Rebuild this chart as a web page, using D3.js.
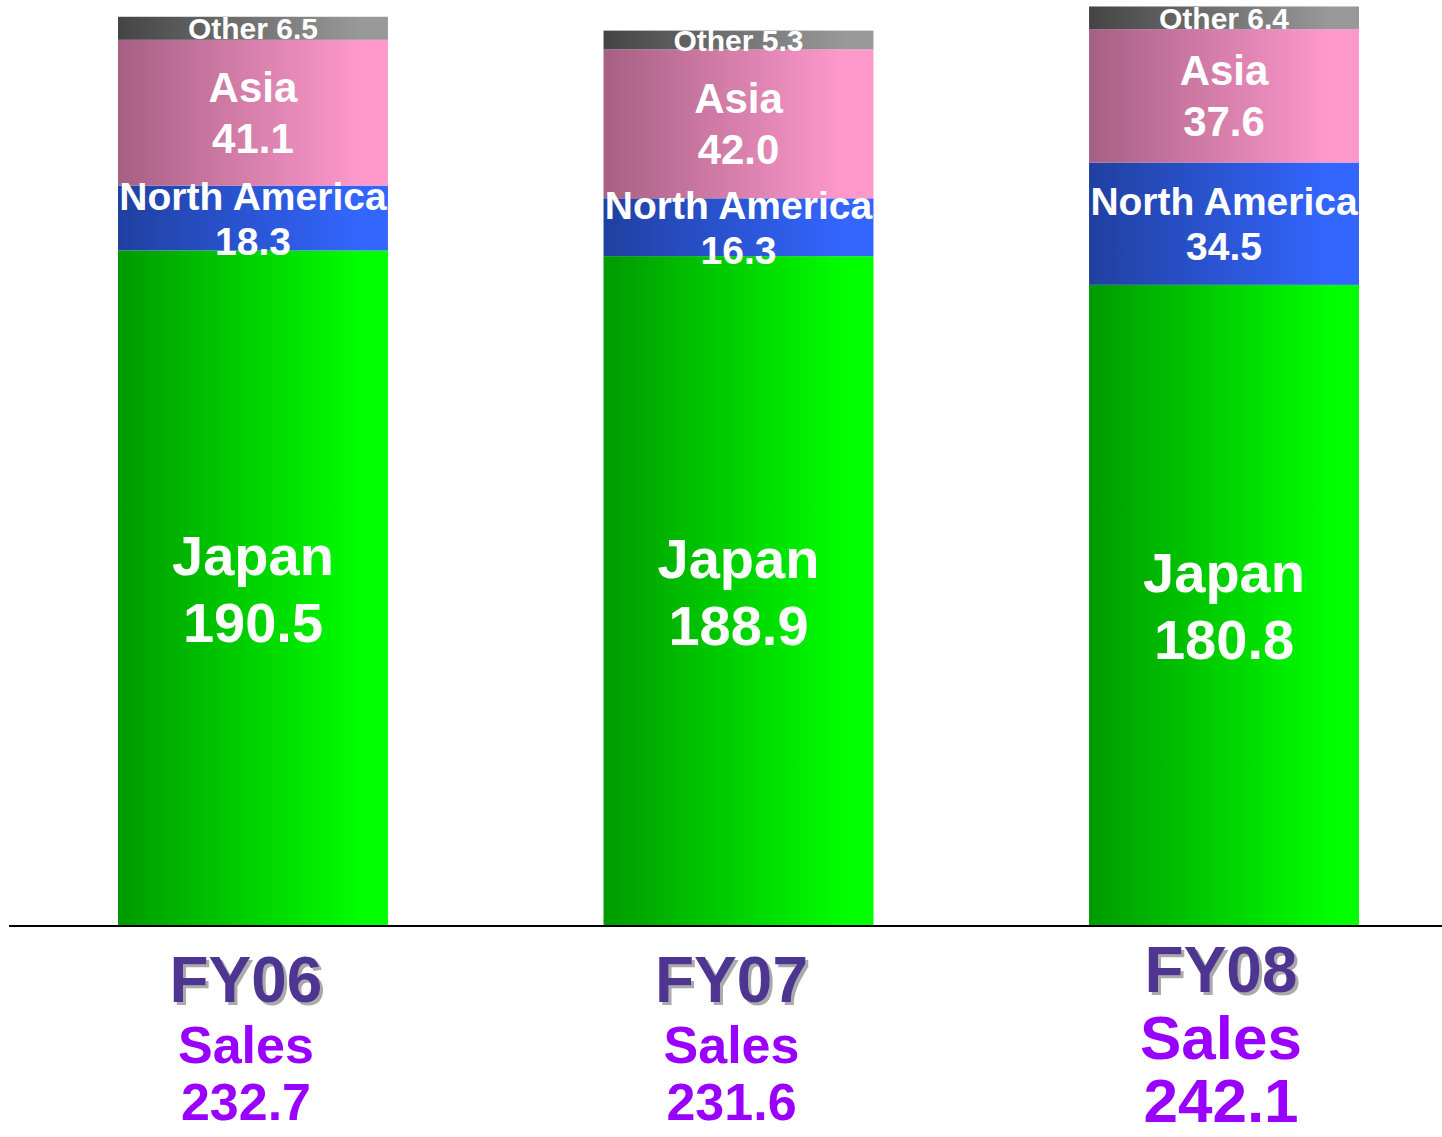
<!DOCTYPE html>
<html>
<head>
<meta charset="utf-8">
<script src="https://cdn.jsdelivr.net/npm/d3@7"></script>
<style>
	body { margin: 0; background: #fff; }
	svg text { font-family: "Liberation Sans", Arial, sans-serif; font-weight: bold; }
</style>
</head>
<body>
<div id="chart"></div>
<script>
var years = ["FY06", "FY07", "FY08"];
var japan = [190.5, 188.9, 180.8];
var northAmerica = [18.3, 16.3, 34.5];
var asia = [41.1, 42.0, 37.6];
var other = [6.5, 5.3, 6.4];
var sales = [232.7, 231.6, 242.1];
var regions = ["Japan", "North America", "Asia", "Other"];

var width = 1442,
	height = 1137;

var rows = years.map(function (y, i) {
	return {
		year: y,
		"Japan": japan[i],
		"North America": northAmerica[i],
		"Asia": asia[i],
		"Other": other[i],
	};
});

// gradient colours left -> right, and label font per region
var look = {
	"Japan": { from: "#009a00", to: "#00ff00", font: 56, gap: 67 },
	"North America": { from: "#2040a0", to: "#3366ff", font: 39, gap: 45 },
	"Asia": { from: "#a66084", to: "#ff99cc", font: 42, gap: 51 },
	"Other": { from: "#444444", to: "#999999", font: 30, gap: 0 },
};

var svg = d3
	.select("#chart")
	.append("svg")
	.attr("width", width)
	.attr("height", height);

var defs = svg.append("defs");
regions.forEach(function (r, i) {
	var g = defs
		.append("linearGradient")
		.attr("id", "grad" + i)
		.attr("x1", 0)
		.attr("x2", 1)
		.attr("y1", 0)
		.attr("y2", 0);
	g.append("stop").attr("offset", "0%").attr("stop-color", look[r].from);
	g.append("stop").attr("offset", "90%").attr("stop-color", look[r].to);
	g.append("stop").attr("offset", "100%").attr("stop-color", look[r].to);
});

var shadow = defs.append("filter").attr("id", "shadow");
shadow
	.append("feDropShadow")
	.attr("dx", 3)
	.attr("dy", 3)
	.attr("stdDeviation", 0.6)
	.attr("flood-color", "#aaaaaa")
	.attr("flood-opacity", 1);

var x = d3
	.scaleBand()
	.domain(years)
	.range([118, 1359])
	.paddingInner(0.444)
	.paddingOuter(0);

var y = d3.scaleLinear().domain([0, 260]).range([926, 4]);

var series = d3.stack().keys(regions)(rows);

var groups = svg
	.selectAll("g.series")
	.data(series)
	.enter()
	.append("g")
	.attr("class", "series");

groups
	.selectAll("rect")
	.data(function (d) {
		return d;
	})
	.enter()
	.append("rect")
	.attr("x", function (d) {
		return x(d.data.year);
	})
	.attr("width", x.bandwidth())
	.attr("y", function (d) {
		return y(d[1]);
	})
	.attr("height", function (d) {
		return y(d[0]) - y(d[1]);
	})
	.attr("fill", function (d) {
		var key = d3.select(this.parentNode).datum().key;
		return "url(#grad" + regions.indexOf(key) + ")";
	});

// labels inside the segments
series.forEach(function (s) {
	var st = look[s.key];
	s.forEach(function (d) {
		var cx = x(d.data.year) + x.bandwidth() / 2;
		var cy = (y(d[0]) + y(d[1])) / 2;
		var value = d.data[s.key].toFixed(1);
		var t = svg
			.append("text")
			.attr("text-anchor", "middle")
			.attr("fill", "#fff")
			.attr("font-size", st.font);
		if (s.key === "Other") {
			t.attr("x", cx)
				.attr("y", cy + st.font * 0.36)
				.text("Other " + value);
		} else {
			var first = cy - st.gap / 2 + st.font * 0.36;
			t.append("tspan").attr("x", cx).attr("y", first).text(s.key);
			t.append("tspan")
				.attr("x", cx)
				.attr("y", first + st.gap)
				.text(value);
		}
	});
});

// baseline
svg
	.append("line")
	.attr("x1", 9)
	.attr("x2", width)
	.attr("y1", y(0))
	.attr("y2", y(0))
	.attr("stroke", "#000")
	.attr("stroke-width", 2);

// year and sales labels under the bars
var salesFont = [52, 52, 62];
var salesLines = [
	[1002, 1063, 1120],
	[1002, 1063, 1120],
	[992, 1059, 1122],
];
years.forEach(function (yr, i) {
	var cx = x(yr) + x.bandwidth() / 2 - (i === 2 ? 3 : 7);
	var ln = salesLines[i];
	svg
		.append("text")
		.attr("x", cx)
		.attr("y", ln[0])
		.attr("text-anchor", "middle")
		.attr("font-size", 64)
		.attr("fill", "#4f3592")
		.attr("filter", "url(#shadow)")
		.text(yr);
	svg
		.append("text")
		.attr("x", cx)
		.attr("y", ln[1])
		.attr("text-anchor", "middle")
		.attr("font-size", salesFont[i])
		.attr("fill", "#9900ff")
		.text("Sales");
	svg
		.append("text")
		.attr("x", cx)
		.attr("y", ln[2])
		.attr("text-anchor", "middle")
		.attr("font-size", salesFont[i])
		.attr("fill", "#9900ff")
		.text(sales[i].toFixed(1));
});
</script>
</body>
</html>
